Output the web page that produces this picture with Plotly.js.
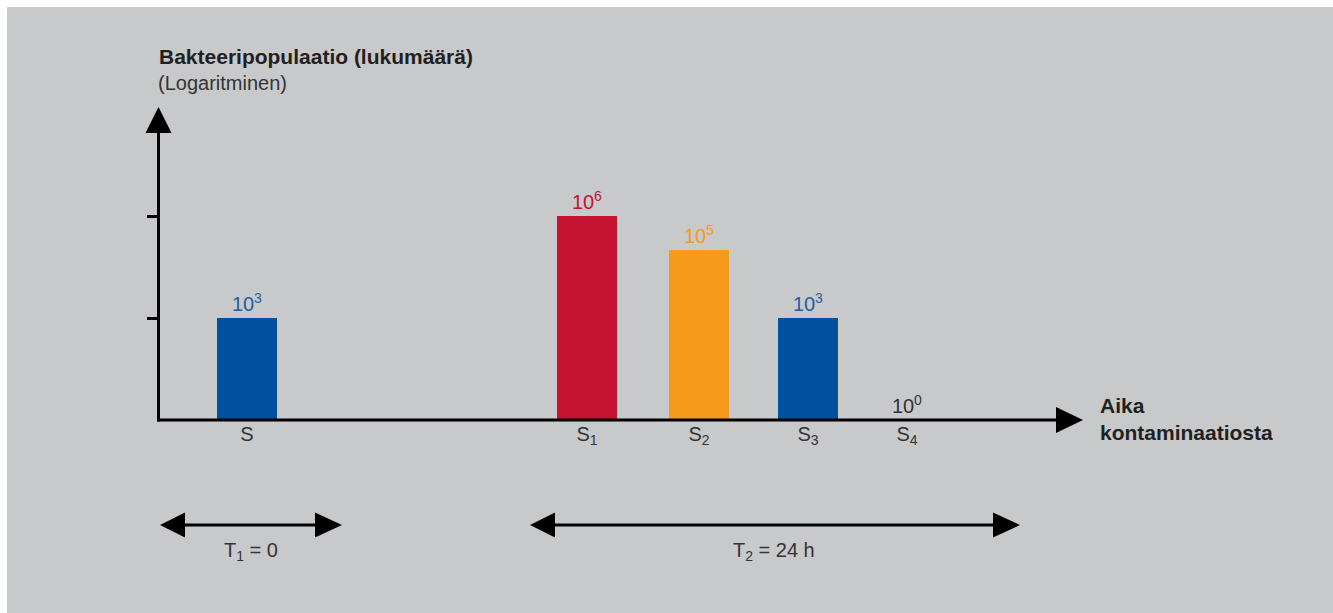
<!DOCTYPE html>
<html>
<head>
<meta charset="utf-8">
<script src="https://cdn.plot.ly/plotly-3.0.1.min.js"></script>
<style>
  html, body { margin: 0; padding: 0; background: #ffffff; }
  #chart { width: 1333px; height: 613px; }
</style>
</head>
<body>
<div id="chart"></div>
<script>
// ---- data ----
const categories = ['S', 'S<sub>1</sub>', 'S<sub>2</sub>', 'S<sub>3</sub>', 'S<sub>4</sub>'];
const timePos = [0.89, 4.29, 5.41, 6.50, 7.49];   // position along the time axis
const logCount = [3, 6, 5, 3, 0];                  // log10 of bacterial count
const yTicks = [3, 6];
const periodLabels = ['T<sub>1</sub> = 0', 'T<sub>2</sub> = 24 h'];

// ---- styles ----
const barColors = ['#00509e', '#c41230', '#f7991c', '#00509e', '#00509e'];
const labelColors = ['#1d5ea8', '#c41230', '#f7991c', '#1d5ea8', '#333333'];
const GREY = '#c8c9cb';
const TXT = '#333333';
const FONT = 'Liberation Sans, Arial, sans-serif';

// layout geometry (pixels)
const L = 158, R = 1080, T = 107, B = 420;
const W = R - L, H = B - T;
const pxX = p => (p - L) / W;
const pxY = p => (B - p) / H;

const valueLabels = logCount.map(v => '10<sup>' + v + '</sup>');

const trace = {
  type: 'bar',
  x: timePos,
  y: logCount,
  width: 0.6,
  marker: { color: barColors, line: { width: 0 } },
  text: valueLabels,
  textposition: 'outside',
  textfont: { family: FONT, size: 20, color: labelColors },
  constraintext: 'none',
  cliponaxis: false,
  hoverinfo: 'skip'
};

function tri(a, b, c) {
  return {
    type: 'path', xref: 'paper', yref: 'paper',
    path: 'M' + pxX(a[0]) + ',' + pxY(a[1]) + ' L' + pxX(b[0]) + ',' + pxY(b[1]) + ' L' + pxX(c[0]) + ',' + pxY(c[1]) + ' Z',
    fillcolor: '#000', line: { width: 0 }
  };
}
function seg(x0, y0, x1, y1) {
  return {
    type: 'line', xref: 'paper', yref: 'paper',
    x0: pxX(x0), y0: pxY(y0), x1: pxX(x1), y1: pxY(y1),
    line: { color: '#000', width: 3 }
  };
}

const shapes = [
  { type: 'rect', xref: 'paper', yref: 'paper', layer: 'below',
    x0: pxX(7), y0: pxY(7), x1: pxX(1340), y1: pxY(620),
    fillcolor: GREY, line: { width: 0 } },
  // y axis
  seg(158.5, 421.5, 158.5, 130),
  tri([145.5, 133], [171.5, 133], [158.5, 107]),
  // x axis
  seg(157, 420, 1058, 420),
  tri([1056, 407], [1056, 433], [1083, 420]),
  // T1 arrow
  seg(183, 525, 317, 525),
  tri([160, 525], [185, 512.5], [185, 537.5]),
  tri([342, 525], [315, 512.5], [315, 537.5]),
  // T2 arrow
  seg(553, 525, 995, 525),
  tri([530, 525], [555, 512.5], [555, 537.5]),
  tri([1020, 525], [993, 512.5], [993, 537.5])
];

const annotations = [
  { xref: 'paper', yref: 'paper', x: pxX(157), y: pxY(57), xanchor: 'left', yanchor: 'middle',
    text: '<b>Bakteeripopulaatio (lukumäärä)</b>', showarrow: false,
    font: { family: FONT, size: 21, color: '#231f20' } },
  { xref: 'paper', yref: 'paper', x: pxX(156), y: pxY(83), xanchor: 'left', yanchor: 'middle',
    text: '(Logaritminen)', showarrow: false,
    font: { family: FONT, size: 20, color: TXT } },
  { xref: 'paper', yref: 'paper', x: pxX(1098), y: pxY(419), xanchor: 'left', yanchor: 'middle',
    align: 'left', text: '<b>Aika<br>kontaminaatiosta</b>', showarrow: false,
    font: { family: FONT, size: 21, color: '#231f20' } },
  { xref: 'paper', yref: 'paper', x: pxX(251), y: pxY(551), xanchor: 'center', yanchor: 'middle',
    text: periodLabels[0], showarrow: false,
    font: { family: FONT, size: 20, color: TXT } },
  { xref: 'paper', yref: 'paper', x: pxX(774), y: pxY(551), xanchor: 'center', yanchor: 'middle',
    text: periodLabels[1], showarrow: false,
    font: { family: FONT, size: 20, color: TXT } }
];

const layout = {
  width: 1333, height: 613,
  margin: { l: L, r: 1333 - R, t: T, b: 613 - B, pad: 0 },
  paper_bgcolor: '#ffffff',
  plot_bgcolor: 'rgba(0,0,0,0)',
  showlegend: false,
  xaxis: {
    range: [0, W / 100], showgrid: false, zeroline: false, showline: false,
    tickmode: 'array', tickvals: timePos, ticktext: categories, ticks: '',
    tickfont: { family: FONT, size: 20, color: TXT },
    fixedrange: true
  },
  yaxis: {
    range: [0, H / 34], showgrid: false, zeroline: false, showline: false,
    tickmode: 'array', tickvals: yTicks, ticks: 'outside', ticklen: 10, tickwidth: 3,
    tickcolor: '#000', showticklabels: false, fixedrange: true
  },
  shapes: shapes,
  annotations: annotations
};

Plotly.newPlot('chart', [trace], layout, { displayModeBar: false, staticPlot: true });
</script>
</body>
</html>
